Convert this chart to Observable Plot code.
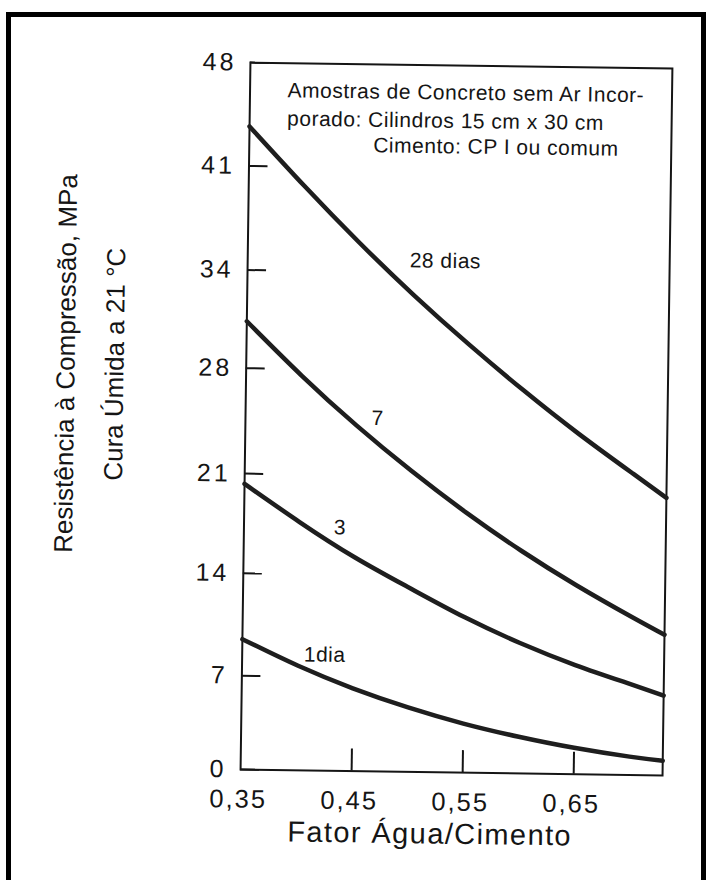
<!DOCTYPE html>
<html>
<head>
<meta charset="utf-8">
<script src="https://cdn.jsdelivr.net/npm/d3@7"></script>
<script src="https://cdn.jsdelivr.net/npm/@observablehq/plot@0.6"></script>
<style>
  html, body { margin: 0; padding: 0; background: #fff; }
  #wrap { position: relative; width: 710px; height: 880px; overflow: hidden; background: #fff; }
  #border { position: absolute; left: 6px; top: 12px; width: 700px; height: 900px; box-sizing: border-box; border: 5px solid #000; pointer-events: none; z-index: 2; }
  #chart { position: absolute; left: 0; top: 0; z-index: 1; }
</style>
</head>
<body>
<div id="wrap"><div id="chart"></div><div id="border"></div></div>
<script>
// ---- data ----
const waterCement = [0.35, 0.40, 0.45, 0.50, 0.55, 0.60, 0.65, 0.70, 0.73];
const ages = ["28 dias", "7", "3", "1dia"];
const fc28 = [43.9, 39.9, 36.1, 32.55, 29.25, 26.15, 23.25, 20.55, 18.95];
const fc7  = [30.6, 26.95, 23.6, 20.55, 17.75, 15.2, 12.9, 10.8, 9.6];
const fc3  = [19.5, 16.95, 14.6, 12.55, 10.6, 8.9, 7.45, 6.2, 5.45];
const fc1  = [8.9, 7.15, 5.65, 4.4, 3.35, 2.5, 1.8, 1.25, 1.0];

// curve label anchors (x = fator a/c, y = MPa)
const labelX = [0.528, 0.469, 0.4364, 0.4243];
const labelY = [34.9, 24.1, 16.6, 7.9];

// axes
const xTicks = [0.35, 0.45, 0.55, 0.65];
const xTickLabels = ["0,35", "0,45", "0,55", "0,65"];
const xInnerTicks = [0.45, 0.55, 0.65];
const yTicks = [0, 6.4, 13.4, 20.2, 27.4, 34.1, 41.2, 48.26];
const yTickLabels = ["0", "7", "14", "21", "28", "34", "41", "48"];
const xDomain = [0.35, 0.73];
const yDomain = [0, 48.26];

const xTitle = "Fator Água/Cimento";
const yTitle1 = "Resistência à Compressão, MPa";
const yTitle2 = "Cura Úmida a 21 °C";
const noteLines = ["Amostras de Concreto sem Ar Incor-", "porado: Cilindros 15 cm x 30 cm", "Cimento: CP I ou comum"];

// ---- build tables ----
const series = [fc28, fc7, fc3, fc1];
const rows = [];
series.forEach((vals, s) => vals.forEach((v, i) => rows.push({age: ages[s], w: waterCement[i], fc: v})));
const labels = ages.map((a, i) => ({text: a, x: labelX[i], y: labelY[i]}));
const xFmt = new Map(xTicks.map((t, i) => [t, xTickLabels[i]]));
const yFmt = new Map(yTicks.map((t, i) => [t, yTickLabels[i]]));

const FONT = "'Liberation Sans', Arial, Helvetica, sans-serif";
const INK = "#151515";

const chart = Plot.plot({
  width: 710,
  height: 880,
  marginLeft: 245,
  marginRight: 43,
  marginTop: 65,
  marginBottom: 108,
  style: {fontFamily: FONT, background: "transparent", color: INK, overflow: "visible"},
  x: {domain: xDomain, axis: null},
  y: {domain: yDomain, axis: null},
  marks: [
    // inward tick marks
    Plot.axisY({ticks: yTicks, tickSize: -19, strokeWidth: 2, fill: "none", label: null}),
    Plot.axisX({ticks: xInnerTicks, tickSize: -22, strokeWidth: 2, fill: "none", label: null}),
    // tick labels
    Plot.axisY({ticks: yTicks, tickSize: 0, tickPadding: 14, tickFormat: d => yFmt.get(d), fontSize: 25, label: null, fill: INK}),
    Plot.axisX({ticks: xTicks, tickSize: 0, tickPadding: 20, dx: -2, tickFormat: d => xFmt.get(d), fontSize: 25.5, label: null, fill: INK}),
    Plot.frame({stroke: INK, strokeWidth: 2}),
    // curves
    Plot.line(rows, {x: "w", y: "fc", z: "age", curve: "natural", stroke: "#1e1e1e", strokeWidth: 4.5}),
    // curve labels
    Plot.text(labels, {x: "x", y: "y", text: "text", fontSize: 21, fill: INK, textAnchor: "middle"}),
    // note
    Plot.text([noteLines[0]], {text: d => d, frameAnchor: "top-left", dx: 37.5, dy: 19.2, textAnchor: "start", lineAnchor: "top", fontSize: 21, fill: INK}),
    Plot.text([noteLines[1]], {text: d => d, frameAnchor: "top-left", dx: 37.5, dy: 47.5, textAnchor: "start", lineAnchor: "top", fontSize: 21, fill: INK}),
    Plot.text([noteLines[2]], {text: d => d, frameAnchor: "top-left", dx: 124, dy: 73, textAnchor: "start", lineAnchor: "top", fontSize: 21, fill: INK}),
    // axis titles
    Plot.text([xTitle], {text: d => d, frameAnchor: "bottom", dx: -21, dy: 62, textAnchor: "middle", lineAnchor: "middle", fontSize: 29, fill: INK}),
    Plot.text([yTitle1], {text: d => d, frameAnchor: "left", dx: -180, dy: -50, rotate: -90, textAnchor: "middle", lineAnchor: "middle", fontSize: 26, fill: INK}),
    Plot.text([yTitle2], {text: d => d, frameAnchor: "left", dx: -131, dy: -50, rotate: -90, textAnchor: "middle", lineAnchor: "middle", fontSize: 26, fill: INK})
  ]
});
chart.style.transform = "rotate(0.8deg)";
chart.style.transformOrigin = "456px 418px";
chart.style.maxWidth = "none";
// the scanned lettering is wider than Liberation Sans: widen with letter-spacing
chart.style.letterSpacing = "0.5px";
chart.querySelectorAll('g[aria-label="x-axis tick label"] text').forEach(t => t.style.letterSpacing = "2px");
chart.querySelectorAll('g[aria-label="y-axis tick label"] text').forEach(t => t.style.letterSpacing = "3px");
chart.querySelectorAll("text").forEach(t => {
  if (t.textContent === xTitle) t.style.letterSpacing = "1.4px";
  if (t.textContent === yTitle1 || t.textContent === yTitle2) t.style.letterSpacing = "0px";
});
document.getElementById("chart").appendChild(chart);
</script>
</body>
</html>
